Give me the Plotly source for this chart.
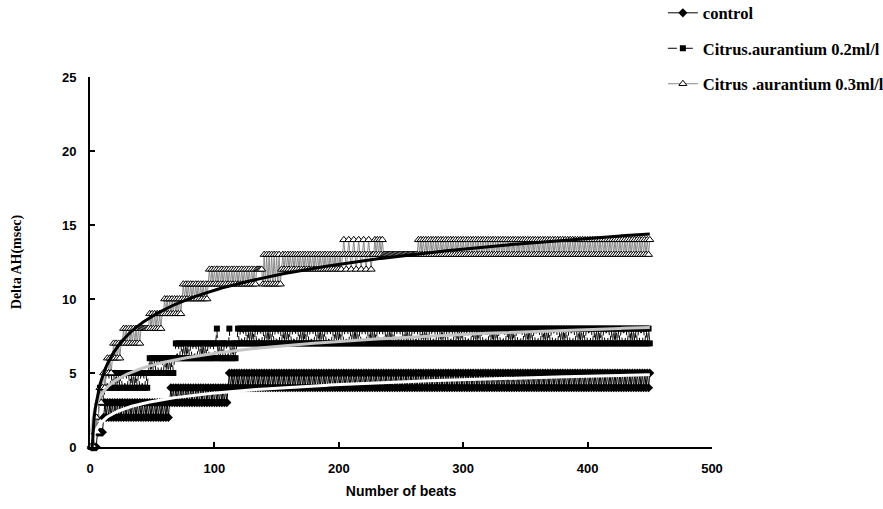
import numpy as np
import plotly.graph_objects as go

# Beats 1..450; each series given as run segments:
# (first beat, last beat, cycle of integer levels the trace alternates between)
beats = list(range(1, 451))

control_segments = [
    (1, 5, [0]), (6, 10, [1]), (11, 63, [2, 3]), (64, 110, [3, 4]),
    (111, 450, [4, 5]),
]
ca02_segments = [
    (1, 3, [0]), (4, 6, [1, 2]), (7, 11, [3, 4]), (12, 46, [4, 5]),
    (47, 67, [5, 6]), (68, 101, [6, 7]), (102, 102, [8]), (103, 111, [6, 7]),
    (112, 112, [8]), (113, 117, [6, 7]), (118, 118, [7]), (119, 119, [8]),
    (120, 450, [7, 8]),
]
ca03_segments = [
    (1, 3, [0]), (4, 6, [1, 2]), (7, 9, [3, 4]), (10, 12, [4, 5]),
    (13, 17, [5, 6]), (18, 25, [6, 7]), (26, 40, [7, 8]), (41, 46, [8]),
    (47, 58, [8, 9]), (59, 73, [9, 10]), (74, 94, [10, 11]), (95, 133, [11, 12]),
    (134, 138, [12]), (139, 153, [11, 13]), (154, 201, [12, 13]),
    (202, 227, [12, 13, 14, 13]), (228, 236, [13, 14]), (237, 262, [13]),
    (263, 450, [13, 14]),
]

series_names = ["control", "Citrus.aurantium 0.2ml/l", "Citrus .aurantium 0.3ml/l"]
x_ticks = [0, 100, 200, 300, 400, 500]
y_ticks = [0, 5, 10, 15, 20, 25]


def expand(segs):
    vals = []
    for s, e, cyc in segs:
        for i, _ in enumerate(range(s, e + 1)):
            vals.append(cyc[i % len(cyc)])
    return vals


control = expand(control_segments)
ca02 = expand(ca02_segments)
ca03 = expand(ca03_segments)

fig = go.Figure()

styles = [
    dict(line=dict(color="black", width=1),
         marker=dict(symbol="diamond", size=7, color="black")),
    dict(line=dict(color="black", width=1, dash="9px,7px"),
         marker=dict(symbol="square", size=6, color="black")),
    dict(line=dict(color="#8a8a8a", width=1),
         marker=dict(symbol="triangle-up", size=7, color="white",
                     line=dict(color="black", width=1))),
]

for i, (name, vals) in enumerate(zip(series_names, [control, ca02, ca03])):
    fig.add_trace(go.Scatter(
        x=beats, y=vals, mode="lines+markers", name=name,
        legendgroup=f"g{i}", cliponaxis=False, **styles[i]))

# logarithmic trend lines fitted to each series
fit_colors = ["white", "#c4c4c4", "black"]
xs = np.linspace(1, 450, 400)
for vals, col in zip([control, ca02, ca03], fit_colors):
    a, b = np.polyfit(np.log(beats), vals, 1)
    fig.add_trace(go.Scatter(x=xs, y=a * np.log(xs) + b, mode="lines",
                             line=dict(color=col, width=3), showlegend=False,
                             hoverinfo="skip"))

fig.update_layout(
    width=883, height=509,
    margin=dict(l=90, r=171, t=77, b=62, autoexpand=False),
    plot_bgcolor="white", paper_bgcolor="white",
    legend=dict(x=0.921, y=1.22, xanchor="left", yanchor="top",
                font=dict(family="Liberation Serif", size=16.5, color="black", weight="bold"),
                traceorder="grouped", tracegroupgap=11, bgcolor="rgba(0,0,0,0)"),
    xaxis=dict(range=[0, 500], tickvals=x_ticks, ticks="inside", ticklen=5,
               tickwidth=1.5, tickcolor="black", showline=True, linewidth=2,
               linecolor="black", showgrid=False, zeroline=False,
               automargin=False, ticklabelstandoff=8,
               tickfont=dict(family="Liberation Sans", size=13, color="black", weight="bold"),
               title=dict(text="Number of beats", standoff=12,
                          font=dict(family="Liberation Sans", size=14, color="black", weight="bold"))),
    yaxis=dict(range=[0, 25], tickvals=y_ticks, ticks="inside", ticklen=5,
               tickwidth=1.5, tickcolor="black", showline=True, linewidth=2,
               linecolor="black", showgrid=False, zeroline=False,
               automargin=False, ticklabelstandoff=9,
               tickfont=dict(family="Liberation Sans", size=13, color="black", weight="bold"),
               title=dict(text="Delta AH(msec)", standoff=37,
                          font=dict(family="Liberation Serif", size=14, color="black", weight="bold"))),
)

fig.write_html("out.html", config={"displayModeBar": False},
               post_script="document.body.style.margin='0';")
